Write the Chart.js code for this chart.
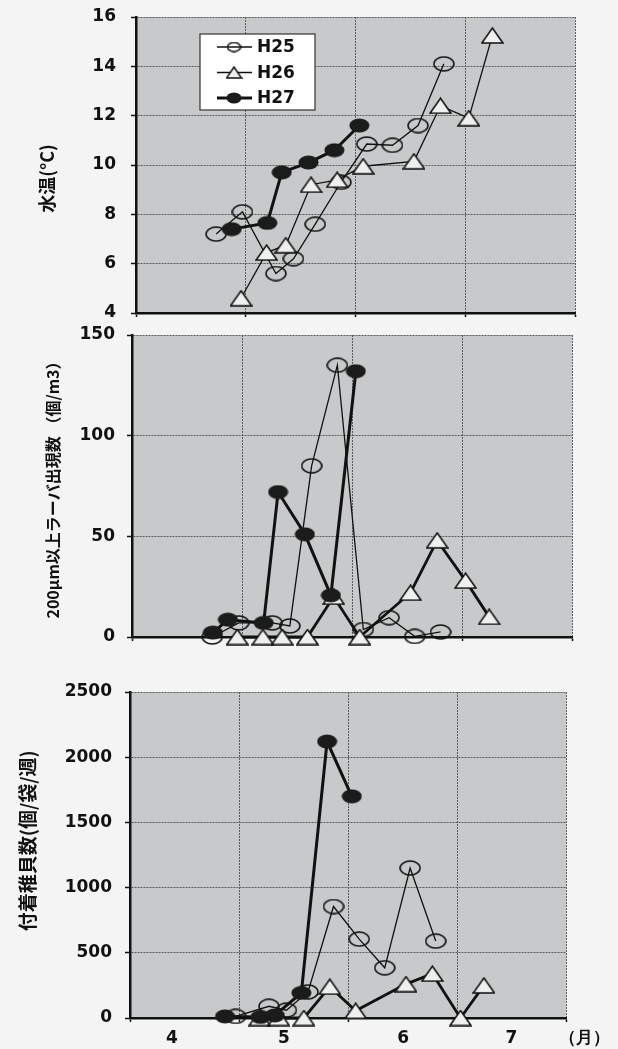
<!DOCTYPE html>
<html><head><meta charset="utf-8">
<script src="https://cdn.jsdelivr.net/npm/chart.js@4.4.1/dist/chart.umd.min.js"></script>
<style>
html,body{margin:0;padding:0;background:#f4f4f4;width:618px;height:1049px;overflow:hidden}
.p{position:absolute;left:0;width:618px}
</style></head><body>
<div class="p" style="top:0;height:330px"><canvas id="c1"></canvas></div>
<div class="p" style="top:320px;height:330px"><canvas id="c2"></canvas></div>
<div class="p" style="top:660px;height:389px"><canvas id="c3"></canvas></div>
<script>
// ---- data (x = position along the date axis, in months from axis start) ----
const seriesNames = ['H25', 'H26', 'H27'];
const datesH25 = [0.73, 0.97, 1.275, 1.435, 1.633, 1.867, 2.103, 2.337, 2.57, 2.805];
const datesH26 = [0.957, 1.19, 1.365, 1.595, 1.833, 2.07, 2.532, 2.774, 3.032, 3.247];
const datesH27 = [0.735, 0.872, 1.197, 1.328, 1.572, 1.808, 2.035];

const tempH25 = [7.2, 8.1, 5.6, 6.2, 7.6, 9.3, 10.85, 10.8, 11.6, 14.1];
const tempH26 = [4.6, 6.45, 6.75, 9.2, 9.4, 9.95, 10.15, 12.4, 11.9, 15.25];
const tempH27 = [null, 7.4, 7.65, 9.7, 10.1, 10.6, 11.6];

const larvaH25 = [0, 7, 7, 5.5, 85, 135, 3.7, 9.6, 0.3, 2.5];
const larvaH26 = [0, 0, 0, 0, 20, 0, 22, 48, 28, 10];
const larvaH27 = [2.2, 8.6, 7, 72, 51, 20.7, 132];

const spatH25 = [null, 12, 90, 60, 200, 855, 605, 385, 1150, 590];
const spatH26 = [null, 0, 0, 0, 240, 55, 260, 340, 0, 250];
const spatH27 = [null, 12, 8, 20, 192, 2120, 1700];

const monthLabels = ['4', '5', '6', '7', '（月）'];
const titleTemp = '水温(°C)';
const titleLarva = '200μm以上ラーバ出現数 （個/m3）';
const titleSpat = '付着稚貝数(個/袋/週)';

// ---- styling ----
const PLOT_BG = '#c7c9ca';
const GRID = '#5c5c5c';
const INK = '#111111';
const TICK_FONT = {family: 'DejaVu Sans', weight: 'bold', size: 17};

function marker(kind, w, h) {
  const c = document.createElement('canvas');
  c.width = w; c.height = h;
  const g = c.getContext('2d');
  g.strokeStyle = INK; g.lineWidth = 1.5;
  if (kind === 'open') {
    g.beginPath(); g.ellipse(w / 2, h / 2, w / 2 - 1, h / 2 - 1, 0, 0, Math.PI * 2); g.stroke();
  } else if (kind === 'filled') {
    g.fillStyle = '#1b1b1b';
    g.beginPath(); g.ellipse(w / 2, h / 2, w / 2 - 0.5, h / 2 - 0.5, 0, 0, Math.PI * 2); g.fill();
  } else {
    g.fillStyle = '#efefef';
    g.beginPath(); g.moveTo(w / 2, 1); g.lineTo(w - 1, h - 1); g.lineTo(1, h - 1); g.closePath();
    g.fill(); g.stroke();
  }
  return c;
}
const mOpen = marker('open', 22, 16), mFilled = marker('filled', 21, 15), mTri = marker('tri', 23, 17);
const lOpen = marker('open', 15, 11), lFilled = marker('filled', 16, 12), lTri = marker('tri', 17, 13);
const markers = {H25: [mOpen, lOpen], H26: [mTri, lTri], H27: [mFilled, lFilled]};

function series(name, xs, ys, lw, order, legendIndex) {
  const data = [];
  xs.forEach((x, i) => { if (ys[i] !== null && ys[i] !== undefined) data.push({x: x, y: ys[i]}); });
  return {
    label: name, data, borderColor: INK, backgroundColor: INK, borderWidth: lw,
    pointStyle: markers[name][0], pointRadius: 10, pointHoverRadius: 10,
    fill: false, tension: 0, clip: false, order, legendIndex, legendPt: markers[name][1]
  };
}

const plotBg = {
  id: 'plotBg',
  beforeDraw(chart) {
    const {ctx, chartArea: a} = chart;
    ctx.save(); ctx.fillStyle = PLOT_BG;
    ctx.fillRect(a.left, a.top, a.right - a.left, a.bottom - a.top);
    ctx.restore();
  }
};

const boxLegend = {
  id: 'boxLegend',
  afterDraw(chart, args, o) {
    if (!o || !o.show) return;
    const ctx = chart.ctx, a = chart.chartArea;
    const L = a.left + o.dx, T = a.top + o.dy;
    ctx.save();
    ctx.fillStyle = '#ffffff'; ctx.strokeStyle = '#333'; ctx.lineWidth = 1.2;
    ctx.fillRect(L, T, o.w, o.h); ctx.strokeRect(L, T, o.w, o.h);
    const sets = chart.data.datasets.slice().sort((p, q) => p.legendIndex - q.legendIndex);
    sets.forEach((d, i) => {
      const y = T + o.row0 + i * o.rowGap;
      ctx.strokeStyle = INK; ctx.lineWidth = d.borderWidth;
      ctx.beginPath(); ctx.moveTo(L + 17, y); ctx.lineTo(L + 52, y); ctx.stroke();
      const m = d.legendPt;
      ctx.drawImage(m, L + 34 - m.width / 2, y - m.height / 2);
      ctx.fillStyle = INK; ctx.font = 'bold 17px "DejaVu Sans"';
      ctx.textAlign = 'left'; ctx.textBaseline = 'middle';
      ctx.fillText(d.label, L + 57, y + 1);
    });
    ctx.restore();
  }
};

function yAxis(min, max, step, title, tfont, tpad, width, tickPad) {
  return {
    type: 'linear', min, max,
    ticks: {stepSize: step, color: INK, font: TICK_FONT, padding: tickPad, callback: v => String(v)},
    grid: {color: GRID, lineWidth: 1, tickLength: 5, tickColor: INK, tickWidth: 1.5},
    border: {display: true, color: INK, width: 2.5, dash: [2, 1]},
    title: {display: true, text: title, color: INK, font: tfont, padding: {top: tpad, bottom: 0}},
    afterFit(s) { s.width = width; s.paddingTop = 0; s.paddingBottom = 0; }
  };
}
function xAxis(height) {
  return {
    type: 'linear', min: 0, max: 4,
    ticks: {stepSize: 1, display: false},
    grid: {color: GRID, lineWidth: 1, tickLength: 4, tickColor: INK, tickWidth: 1.5},
    border: {display: true, color: INK, width: 2.5, dash: [2, 1]},
    afterFit(s) { s.height = height; s.paddingLeft = 0; s.paddingRight = 0; }
  };
}

function build(id, datasets, scales, padding, extraPlugins, pluginOpts) {
  return new Chart(document.getElementById(id), {
    type: 'line',
    data: {datasets},
    options: {
      responsive: true, maintainAspectRatio: false, animation: false, events: [],
      layout: {padding},
      scales,
      plugins: Object.assign({legend: {display: false}, tooltip: {enabled: false}}, pluginOpts || {})
    },
    plugins: [plotBg].concat(extraPlugins || [])
  });
}

// panel 1: water temperature
build('c1', [
  series('H25', datesH25, tempH25, 1.3, 2, 0),
  series('H26', datesH26, tempH26, 1.3, 1, 1),
  series('H27', datesH27, tempH27, 3, 0, 2)
], {
  x: xAxis(17),
  y: yAxis(4, 16, 2, titleTemp + '\u3000\u2002', {family: 'Noto Sans CJK JP', weight: 'bold', size: 18}, 36, 136, 15)
}, {left: 0, top: 17, right: 43, bottom: 0}, [boxLegend],
{boxLegend: {show: true, dx: 64, dy: 17, w: 115, h: 76, row0: 13, rowGap: 25.5}});

// panel 2: larvae
build('c2', [
  series('H25', datesH25, larvaH25, 1.3, 2, 0),
  series('H26', datesH26, larvaH26, 2.8, 1, 1),
  series('H27', datesH27, larvaH27, 3, 0, 2)
], {
  x: xAxis(13),
  y: yAxis(0, 150, 50, titleLarva, {family: 'Noto Sans CJK JP', weight: 'bold', size: 16}, 43, 132, 12)
}, {left: 0, top: 15, right: 46, bottom: 0});

// panel 3: spat
const monthTickPos = [0.385, 1.413, 2.505, 3.5, 4.17];
build('c3', [
  series('H25', datesH25, spatH25, 1.3, 2, 0),
  series('H26', datesH26, spatH26, 2.8, 1, 1),
  series('H27', datesH27, spatH27, 3, 0, 2)
], {
  x: xAxis(4),
  x2: {
    type: 'linear', position: 'bottom', min: 0, max: 4,
    grid: {display: false, drawTicks: false, tickLength: 0}, border: {display: false},
    afterBuildTicks(s) { s.ticks = monthTickPos.map(v => ({value: v})); },
    ticks: {autoSkip: false, maxRotation: 0, color: INK, font: TICK_FONT, padding: 6,
      callback: (v, i) => monthLabels[i]},
    afterFit(s) { s.height = 27; s.paddingLeft = 0; s.paddingRight = 0; }
  },
  y: yAxis(0, 2500, 500, '\u3000\u2002' + titleSpat, {family: 'Noto Sans CJK JP', weight: 'bold', size: 19}, 16, 130, 13)
}, {left: 0, top: 32, right: 52, bottom: 0});
</script>
</body></html>
